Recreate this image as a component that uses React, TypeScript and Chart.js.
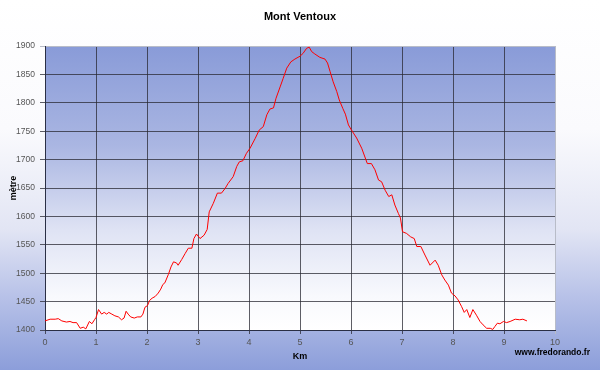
import React, { useEffect, useRef } from "react";
import { Chart, registerables } from "chart.js";

Chart.register(...registerables);

const chartTitle = "Mont Ventoux";
const xAxisTitle = "Km";
const yAxisTitle = "mètre";
const creditText = "www.fredorando.fr";

const distanceKm = [
  0, 0.1, 0.2, 0.26, 0.33, 0.42, 0.49, 0.55, 0.62, 0.69, 0.75, 0.8, 0.87, 0.92, 0.97,
  1.0, 1.05, 1.11, 1.16, 1.21, 1.25, 1.31, 1.37, 1.44, 1.5, 1.55, 1.59, 1.63, 1.68, 1.75,
  1.81, 1.88, 1.92, 1.96, 2.01, 2.05, 2.1, 2.16, 2.22, 2.27, 2.31, 2.35, 2.42, 2.47, 2.52,
  2.58, 2.61, 2.68, 2.75, 2.81, 2.88, 2.92, 2.97, 3.04, 3.12, 3.18, 3.22, 3.3, 3.38, 3.46,
  3.53, 3.59, 3.69, 3.76, 3.81, 3.88, 3.95, 4.02, 4.12, 4.2, 4.28, 4.35, 4.41, 4.48, 4.53,
  4.61, 4.67, 4.74, 4.82, 4.9, 5.0, 5.06, 5.13, 5.18, 5.23, 5.29, 5.39, 5.49, 5.54, 5.59,
  5.65, 5.72, 5.77, 5.84, 5.89, 5.95, 6.01, 6.11, 6.21, 6.32, 6.4, 6.47, 6.54, 6.6, 6.67,
  6.74, 6.8, 6.86, 6.93, 6.97, 7.01, 7.09, 7.17, 7.24, 7.29, 7.37, 7.45, 7.55, 7.65, 7.71,
  7.78, 7.84, 7.91, 7.97, 8.04, 8.1, 8.17, 8.22, 8.27, 8.33, 8.39, 8.46, 8.53, 8.59, 8.66,
  8.73, 8.78, 8.82, 8.87, 8.92, 8.99, 9.05, 9.12, 9.22, 9.31, 9.37, 9.45,
];

const elevationM = [
  1416, 1419, 1419, 1420, 1416, 1414, 1415, 1413, 1413, 1403, 1405, 1402, 1415, 1411, 1418,
  1422, 1436, 1428, 1431, 1428, 1431, 1428, 1425, 1423, 1418, 1421, 1433, 1428, 1423, 1421,
  1423, 1423, 1428, 1440, 1443, 1452, 1456, 1459, 1465, 1472, 1480, 1483, 1498, 1511, 1520,
  1518, 1514, 1524, 1535, 1544, 1544, 1561, 1569, 1561, 1567, 1577, 1608, 1623, 1641, 1641,
  1649, 1658, 1670, 1688, 1696, 1698, 1711, 1720, 1737, 1752, 1758, 1779, 1789, 1791, 1808,
  1828, 1843, 1861, 1872, 1877, 1882, 1887, 1896, 1898, 1890, 1886, 1880, 1877, 1870, 1855,
  1837, 1820, 1805, 1790, 1780, 1761, 1752, 1738, 1720, 1693, 1693, 1682, 1664, 1661, 1646,
  1635, 1638, 1620, 1605, 1597, 1573, 1570, 1564, 1561, 1547, 1547, 1532, 1514, 1523, 1514,
  1497, 1488, 1479, 1465, 1460, 1453, 1441, 1431, 1436, 1422, 1436, 1426, 1415, 1409, 1403,
  1403, 1401, 1406, 1412, 1411, 1415, 1413, 1415, 1419, 1418, 1419, 1416,
];

const xMin = 0;
const xMax = 10;
const xStep = 1;
const yMin = 1400;
const yMax = 1900;
const yStep = 50;

const plotBackground = {
  id: "plotBackground",
  beforeDraw(chart: any) {
    const { ctx, chartArea } = chart;
    const { left, top, right, bottom } = chartArea;
    const g = ctx.createLinearGradient(0, top, 0, bottom);
    g.addColorStop(0, "#899bd8");
    g.addColorStop(0.35, "#aab6e2");
    g.addColorStop(0.65, "#dfe3f4");
    g.addColorStop(0.88, "#f8f9fd");
    g.addColorStop(1, "#ffffff");
    ctx.save();
    ctx.fillStyle = g;
    ctx.fillRect(left, top, right - left, bottom - top);
    ctx.restore();
  },
};

const textPlugin = {
  id: "texts",
  afterDraw(chart: any) {
    const { ctx, chartArea, width } = chart;
    ctx.save();
    ctx.fillStyle = "#000000";
    ctx.textBaseline = "middle";
    ctx.font = "bold 11px 'Liberation Sans', Arial, sans-serif";
    ctx.textAlign = "center";
    ctx.fillText(chartTitle, width / 2, 17);
    ctx.font = "bold 8.5px 'Liberation Sans', Arial, sans-serif";
    ctx.textAlign = "right";
    ctx.fillText(creditText, chartArea.right + 35, 353);
    ctx.restore();
  },
};

export default function App() {
  const canvasRef = useRef<HTMLCanvasElement | null>(null);

  useEffect(() => {
    if (!canvasRef.current) return;
    Chart.defaults.font.family = "'Liberation Sans', Arial, sans-serif";
    const points = distanceKm.map((x, i) => ({ x, y: elevationM[i] }));
    const chart = new Chart(canvasRef.current, {
      type: "scatter",
      data: {
        datasets: [
          {
            data: points,
            showLine: true,
            borderColor: "#ff0000",
            borderWidth: 1,
            pointRadius: 0,
            tension: 0,
            fill: false,
          },
        ],
      },
      options: {
        responsive: false,
        animation: false,
        devicePixelRatio: 1,
        layout: { padding: { left: 0, right: 45, top: 46, bottom: 0 } },
        plugins: {
          legend: { display: false },
          tooltip: { enabled: false },
          title: { display: false },
        },
        scales: {
          x: {
            type: "linear",
            min: xMin,
            max: xMax,
            ticks: {
              stepSize: xStep,
              color: "#555555",
              font: { size: 9 },
              padding: 3,
              callback: (v: any) => String(v),
            },
            grid: {
              color: (c: any) => (c.tick && c.tick.value === xMax ? "#b8bcc8" : "rgba(40,40,50,0.75)"),
              tickLength: 4,
            },
            border: { display: true, color: "#2a2f45" },
            title: {
              display: true,
              text: xAxisTitle,
              color: "#000000",
              font: { size: 9, weight: "bold" },
              padding: 8,
            },
            afterFit: (s: any) => {
              s.height = 40;
            },
          },
          y: {
            type: "linear",
            min: yMin,
            max: yMax,
            ticks: {
              stepSize: yStep,
              color: "#555555",
              font: { size: 8.5 },
              padding: 5,
              callback: (v: any) => String(v),
            },
            grid: {
              color: (c: any) => (c.tick && c.tick.value === yMax ? "#b8bcc8" : "rgba(40,40,50,0.75)"),
              tickLength: 5,
            },
            border: { display: true, color: "#2a2f45" },
            title: {
              display: true,
              text: yAxisTitle,
              color: "#000000",
              font: { size: 9, weight: "bold" },
              padding: 8,
            },
            afterFit: (s: any) => {
              s.width = 45;
            },
          },
        },
      },
      plugins: [plotBackground, textPlugin],
    });
    return () => chart.destroy();
  }, []);

  return (
    <div
      style={{
        position: "fixed",
        left: 0,
        top: 0,
        width: 600,
        height: 370,
        background:
          "linear-gradient(to bottom, #ffffff 0%, #fafafd 35%, #e2e5f4 62%, #b8c2e8 80%, #8c9eda 100%)",
      }}
    >
      <canvas ref={canvasRef} width={600} height={370} style={{ display: "block" }} />
    </div>
  );
}
